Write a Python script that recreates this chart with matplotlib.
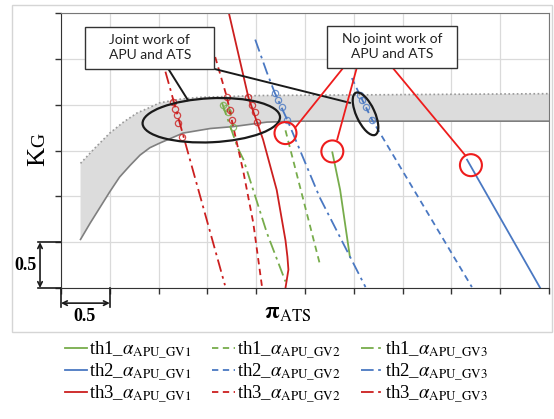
import matplotlib
matplotlib.use('Agg')
import matplotlib.pyplot as plt
from matplotlib.patches import Ellipse, Rectangle
import numpy as np

plt.rcParams['font.family'] = ['Liberation Serif', 'DejaVu Serif']
plt.rcParams['mathtext.fontset'] = 'stix'

# gray band (joint work area of APU and ATS)
upper_x = [0.2, 0.35, 0.5, 0.64, 0.78, 0.91, 1.01, 1.22, 1.42, 2.04, 5.0]
upper_y = [1.36, 1.53, 1.69, 1.81, 1.91, 1.97, 2.02, 2.06, 2.08, 2.10, 2.12]
lower_x = [0.2, 0.3, 0.4, 0.5, 0.6, 0.71, 0.81, 0.91, 1.01, 1.25, 1.53, 1.76, 2.11, 2.45, 5.0]
lower_y = [0.53, 0.71, 0.88, 1.05, 1.21, 1.34, 1.45, 1.53, 1.58, 1.69, 1.74, 1.76, 1.81, 1.82, 1.82]

# characteristics th1..th3 for guide vane positions GV1..GV3
th1_gv1_x = [2.78, 2.86, 2.96]
th1_gv1_y = [1.48, 1.07, 0.34]
th1_gv2_x = [2.30, 2.65]
th1_gv2_y = [1.72, 0.27]
th1_gv3_x = [1.65, 1.81, 1.87, 2.11, 2.30]
th1_gv3_y = [2.02, 1.53, 1.40, 0.60, 0.07]

th2_gv1_x = [4.16, 4.91]
th2_gv1_y = [1.40, 0.0]
th2_gv2_x = [2.98, 3.06, 3.19, 4.21]
th2_gv2_y = [2.29, 2.11, 1.83, 0.01]
th2_gv3_x = [1.99, 2.11, 2.19, 2.32, 2.65, 3.12]
th2_gv3_y = [2.71, 2.35, 2.13, 1.83, 0.99, 0.01]

th3_gv1_x = [1.72, 1.92, 2.07, 2.21, 2.30, 2.32, 2.33, 2.30]
th3_gv1_y = [3.0, 2.08, 1.62, 1.07, 0.52, 0.34, 0.20, 0.0]
th3_gv2_x = [1.58, 1.70, 1.75, 1.87, 1.97, 2.06]
th3_gv2_y = [2.52, 2.08, 1.83, 1.26, 0.71, 0.01]
th3_gv3_x = [1.07, 1.68]
th3_gv3_y = [2.36, 0.03]

# operating points inside the band
pts_th1_gv3 = ([1.66, 1.69, 1.71, 1.76], [2.00, 1.96, 1.92, 1.76])
pts_th2_gv2 = ([3.06, 3.08, 3.12, 3.19], [2.11, 2.05, 1.98, 1.83])
pts_th2_gv3 = ([2.19, 2.22, 2.26, 2.32], [2.13, 2.05, 1.98, 1.83])
pts_th3_gv1 = ([1.92, 1.96, 1.99, 2.01], [2.08, 2.00, 1.92, 1.81])
pts_th3_gv2 = ([1.70, 1.73, 1.75], [2.08, 1.94, 1.83])
pts_th3_gv3 = ([1.15, 1.17, 1.19, 1.20, 1.24], [2.03, 1.95, 1.89, 1.80, 1.65])

green = '#77ac4b'
blue = '#4a78c2'
red = '#cc1f1f'
dashed = (0, (3.5, 2.5))
dashdot = (0, (7, 2.5, 1.5, 2.5))

fig = plt.figure(figsize=(5.54, 4.19), dpi=100)
ax = fig.add_axes([61/554, 1-288/419, 488/554, 275/419])
ax.set_xlim(0, 5)
ax.set_ylim(0, 3)
ax.set_xticks(np.arange(0, 5.01, 0.5))
ax.set_yticks(np.arange(0, 3.01, 0.5))
ax.set_xticklabels([])
ax.set_yticklabels([])
ax.tick_params(direction='out', length=4, color='#333333', width=1)
ax.grid(True, color='#dadada', lw=0.9)
ax.set_axisbelow(True)
for s in ['left', 'bottom']:
    ax.spines[s].set_color('#333333')
for s in ['top', 'right']:
    ax.spines[s].set_color('#777777')

# band
ax.fill(np.concatenate([upper_x, lower_x[::-1]]), np.concatenate([upper_y, lower_y[::-1]]),
        color='#dcdcdc', lw=0, zorder=1)
ax.plot(upper_x, upper_y, color='#999999', ls=(0, (1, 1.5)), lw=1.2, zorder=2)
ax.plot(lower_x, lower_y, color='#7f7f7f', lw=1.2, zorder=2)

lw = 1.3
h = {}
h['th1_gv1'], = ax.plot(th1_gv1_x, th1_gv1_y, color=green, lw=lw)
h['th1_gv2'], = ax.plot(th1_gv2_x, th1_gv2_y, color=green, lw=lw, ls=dashed)
h['th1_gv3'], = ax.plot(th1_gv3_x, th1_gv3_y, color=green, lw=lw, ls=dashdot)
h['th2_gv1'], = ax.plot(th2_gv1_x, th2_gv1_y, color=blue, lw=lw)
h['th2_gv2'], = ax.plot(th2_gv2_x, th2_gv2_y, color=blue, lw=lw, ls=dashed)
h['th2_gv3'], = ax.plot(th2_gv3_x, th2_gv3_y, color=blue, lw=lw, ls=dashdot)
h['th3_gv1'], = ax.plot(th3_gv1_x, th3_gv1_y, color=red, lw=lw)
h['th3_gv2'], = ax.plot(th3_gv2_x, th3_gv2_y, color=red, lw=lw, ls=dashed)
h['th3_gv3'], = ax.plot(th3_gv3_x, th3_gv3_y, color=red, lw=lw, ls=dashdot)

for pts, c in [(pts_th1_gv3, green), (pts_th2_gv2, blue), (pts_th2_gv3, blue),
               (pts_th3_gv1, red), (pts_th3_gv2, red), (pts_th3_gv3, red)]:
    ax.plot(pts[0], pts[1], 'o', ms=4.5, mfc='none', mec=c, mew=0.9, alpha=0.8, zorder=4)

# annotations
ax.add_patch(Ellipse((1.54, 1.83), 1.41, 0.48, angle=3, fill=False, ec='#1a1a1a', lw=1.6, zorder=5))
ax.add_patch(Ellipse((3.12, 1.90), 0.50, 0.19, angle=-67, fill=False, ec='#1a1a1a', lw=1.6, zorder=5))
ax.plot([1.10, 1.30], [2.39, 2.05], color='#1a1a1a', lw=1.4, zorder=5)
ax.plot([1.57, 2.96], [2.39, 2.02], color='#1a1a1a', lw=1.4, zorder=5)

for cx, cy in [(2.30, 1.69), (2.78, 1.49), (4.20, 1.34)]:
    ax.add_patch(Ellipse((cx, cy), 0.225, 0.24, fill=False, ec='#ee1c1c', lw=1.5, zorder=5))
for x0, y0, x1, y1 in [(2.89, 2.40, 2.40, 1.75), (3.03, 2.40, 2.83, 1.62), (3.40, 2.40, 4.14, 1.45)]:
    ax.plot([x0, x1], [y0, y1], color='#ee1c1c', lw=1.3, zorder=5)

ax.add_patch(Rectangle((0.25, 2.39), 1.32, 0.46, fc='white', ec='#333333', lw=1.0, zorder=6))
ax.add_patch(Rectangle((2.73, 2.40), 1.33, 0.46, fc='white', ec='#333333', lw=1.0, zorder=6))
ax.text(0.91, 2.62, 'Joint work of\nAPU and ATS', ha='center', va='center', fontsize=10,
        family='Lato', linespacing=1.3, color='#222222', zorder=7)
ax.text(3.395, 2.63, 'No joint work of\nAPU and ATS', ha='center', va='center', fontsize=10,
        family='Lato', linespacing=1.3, color='#222222', zorder=7)

# scale brackets
ax.plot([-0.235, 0], [0.5, 0.5], color='#1a1a1a', lw=1.2, clip_on=False)
ax.plot([-0.235, 0], [0, 0], color='#1a1a1a', lw=1.2, clip_on=False)
ax.annotate('', xy=(-0.215, 0), xytext=(-0.215, 0.5), annotation_clip=False,
            arrowprops=dict(arrowstyle='<->', lw=1.2, color='#1a1a1a', shrinkA=0, shrinkB=0,
                            mutation_scale=8))
ax.text(-0.36, 0.25, '0.5', ha='center', va='center', fontsize=13, fontweight='bold')
ax.plot([0, 0], [0, -0.205], color='#1a1a1a', lw=1.2, clip_on=False)
ax.plot([0.5, 0.5], [0, -0.205], color='#1a1a1a', lw=1.2, clip_on=False)
ax.annotate('', xy=(0, -0.165), xytext=(0.5, -0.165), annotation_clip=False,
            arrowprops=dict(arrowstyle='<->', lw=1.2, color='#1a1a1a', shrinkA=0, shrinkB=0,
                            mutation_scale=8))
ax.text(0.245, -0.31, '0.5', ha='center', va='center', fontsize=13, fontweight='bold')

# axis labels
fig.text(288/554, 1-313/419, r'$\mathbf{\pi}_{\mathrm{ATS}}$', ha='center', va='center', fontsize=17)
fig.text(38/554, 1-156/419, 'K', rotation=90, ha='center', va='center', fontsize=19)
fig.text(40/554, 1-140/419, 'G', rotation=90, ha='center', va='center', fontsize=14)

# outer frame
fig.patches.append(Rectangle((12/554, 1-332/419), 540/554, 327/419, transform=fig.transFigure,
                             fill=False, ec='#d5d5d5', lw=1.0))

labels = {}
for t in ['1', '2', '3']:
    for g in ['1', '2', '3']:
        labels['th%s_gv%s' % (t, g)] = r'th%s_$\alpha_{\mathrm{APU\_GV%s}}$' % (t, g)
order = ['th1_gv1', 'th2_gv1', 'th3_gv1', 'th1_gv2', 'th2_gv2', 'th3_gv2', 'th1_gv3', 'th2_gv3', 'th3_gv3']
fig.legend([h[k] for k in order], [labels[k] for k in order], ncol=3, frameon=False,
           loc='upper left', bbox_to_anchor=(57/554, 1-332/419), fontsize=13.5,
           handlelength=1.2, handletextpad=0.1, columnspacing=1.1, labelspacing=0.0,
           borderaxespad=0)

fig.savefig('out.png', dpi=100)
